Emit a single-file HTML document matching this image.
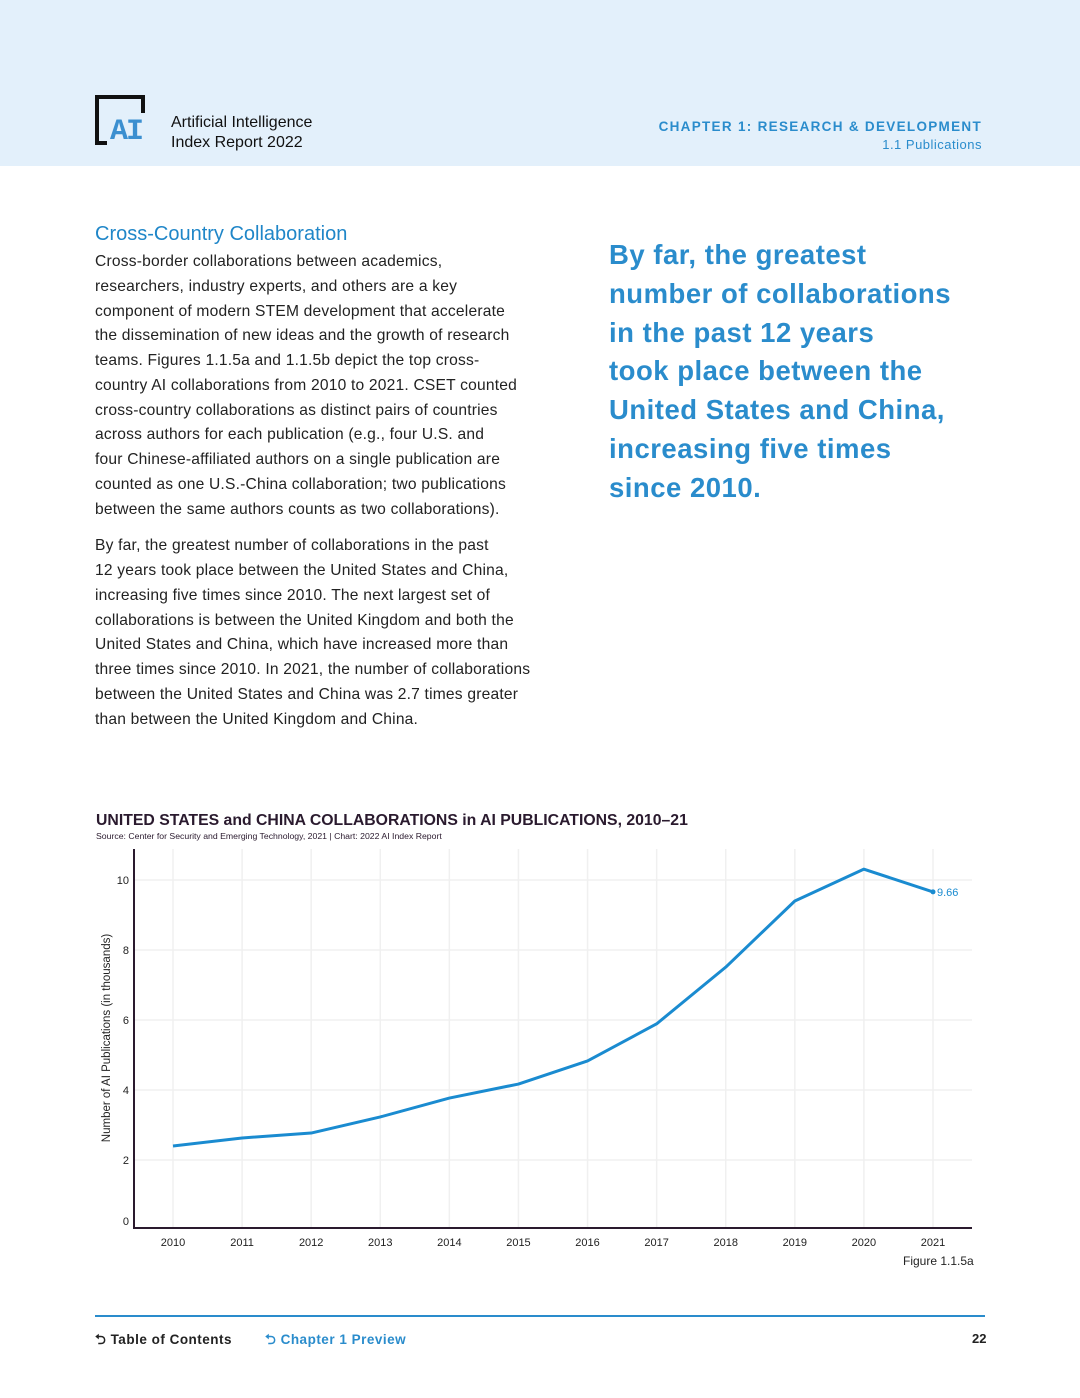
<!DOCTYPE html>
<html><head><meta charset="utf-8">
<style>
body{margin:0;width:1080px;height:1398px;background:#fff;font-family:"Liberation Sans",sans-serif;position:relative;overflow:hidden}
.abs{position:absolute}
#hdr{left:0;top:0;width:1080px;height:166px;background:#e3f0fb}
.body p{margin:0;white-space:nowrap}
</style></head><body>
<div id="hdr" class="abs"></div>
<div class="abs" style="left:95px;top:95px;width:52px;height:50px">
 <div style="position:absolute;left:0;top:0;width:4px;height:50px;background:#111"></div>
 <div style="position:absolute;left:0;top:0;width:50px;height:4px;background:#111"></div>
 <div style="position:absolute;left:46px;top:0;width:4px;height:18px;background:#111"></div>
 <div style="position:absolute;left:0;top:46px;width:12px;height:4px;background:#111"></div>
 <div style="position:absolute;left:15px;top:20px;font:bold 30px 'Liberation Mono',monospace;color:#3b8fd0;letter-spacing:-2px">AI</div>
</div>
<div class="abs" style="left:171px;top:113px;font-size:16px;line-height:20px;color:#111">Artificial Intelligence<br>Index Report 2022</div>
<div class="abs" style="right:98px;top:118px;text-align:right;color:#2a8ccc;font-size:13.5px;font-weight:bold;letter-spacing:1.3px;line-height:18px">CHAPTER 1: RESEARCH &amp; DEVELOPMENT<br><span style="font-weight:normal;letter-spacing:0.5px;font-size:13px">1.1 Publications</span></div>

<div class="abs" style="left:95px;top:223px;font-size:20px;color:#1f86c8">Cross-Country Collaboration</div>
<div class="abs body" style="left:95px;top:250px;width:445px;font-size:15.6px;line-height:24.75px;color:#222;letter-spacing:0.2px">
<p>Cross-border collaborations between academics,<br>researchers, industry experts, and others are a key<br>component of modern STEM development that accelerate<br>the dissemination of new ideas and the growth of research<br>teams. Figures 1.1.5a and 1.1.5b depict the top cross-<br>country AI collaborations from 2010 to 2021. CSET counted<br>cross-country collaborations as distinct pairs of countries<br>across authors for each publication (e.g., four U.S. and<br>four Chinese-affiliated authors on a single publication are<br>counted as one U.S.-China collaboration; two publications<br>between the same authors counts as two collaborations).</p>
<p style="margin-top:12px">By far, the greatest number of collaborations in the past<br>12 years took place between the United States and China,<br>increasing five times since 2010. The next largest set of<br>collaborations is between the United Kingdom and both the<br>United States and China, which have increased more than<br>three times since 2010. In 2021, the number of collaborations<br>between the United States and China was 2.7 times greater<br>than between the United Kingdom and China.</p>
</div>
<div class="abs" style="left:609px;top:236px;width:420px;white-space:nowrap;font-size:27.5px;font-weight:bold;line-height:38.8px;color:#2a8ccc;letter-spacing:0.5px">By far, the greatest<br>number of collaborations<br>in the past 12 years<br>took place between the<br>United States and China,<br>increasing five times<br>since 2010.</div>

<div class="abs" style="left:96px;top:812px;font-size:15.8px;font-weight:bold;color:#2a1a2e">UNITED STATES and CHINA COLLABORATIONS in AI PUBLICATIONS, 2010–21</div>
<div class="abs" style="left:96px;top:831px;font-size:8.7px;color:#2a1a2e">Source: Center for Security and Emerging Technology, 2021 | Chart: 2022 AI Index Report</div>
<svg class="abs" style="left:0;top:0" width="1080" height="1398" id="chart"></svg>
<div class="abs" style="left:903px;top:1254px;font-size:12px;color:#222">Figure 1.1.5a</div>

<div class="abs" style="left:95px;top:1315px;width:890px;height:2px;background:#2a8ccc"></div>
<div class="abs" style="left:95px;top:1330px;font-size:13.5px;font-weight:bold;color:#222;letter-spacing:0.5px">⮌ Table of Contents</div>
<div class="abs" style="left:265px;top:1330px;font-size:13.5px;font-weight:bold;color:#2a8ccc;letter-spacing:0.5px">⮌ Chapter 1 Preview</div>
<div class="abs" style="left:972px;top:1331px;font-size:13px;font-weight:bold;color:#222">22</div>

<script>
const years=["2010","2011","2012","2013","2014","2015","2016","2017","2018","2019","2020","2021"];
const values=[2.4,2.63,2.77,3.23,3.77,4.17,4.83,5.89,7.51,9.4,10.31,9.66];
const yTicks=[0,2,4,6,8,10];
const NS="http://www.w3.org/2000/svg";
const svg=document.getElementById('chart');
const x=i=>173+i*(933-173)/(years.length-1);
const y=v=>1230-v*35;
function mk(t,a){const e=document.createElementNS(NS,t);for(const k in a)e.setAttribute(k,a[k]);svg.appendChild(e);return e;}
years.forEach((yr,i)=>{
 const g=mk('line',{x1:x(i),x2:x(i),y1:849,y2:1228,stroke:'#f0f0f0','stroke-width':1.5});
 
 
 const t=mk('text',{x:x(i),y:1246,'text-anchor':'middle','font-size':11,fill:'#222','font-family':'Liberation Sans'});
 t.textContent=yr;
 
 
});
yTicks.forEach(v=>{
 if(v>0){const g=mk('line',{x1:134,x2:972,y1:y(v),y2:y(v),stroke:'#f0f0f0','stroke-width':1.5});
 
 }
 const t=mk('text',{x:129,y:(v===0?1225:y(v)+4),'text-anchor':'end','font-size':11,fill:'#222','font-family':'Liberation Sans'});
 t.textContent=v;
 
 
});
const ax=mk('line',{x1:134,x2:134,y1:849,y2:1229,stroke:'#2a1a2e','stroke-width':2});


const bx=mk('line',{x1:133,x2:972,y1:1228,y2:1228,stroke:'#2a1a2e','stroke-width':2});


const yt=mk('text',{x:0,y:0,transform:'translate(110,1038) rotate(-90)','text-anchor':'middle','font-size':11.5,fill:'#222','font-family':'Liberation Sans'});
yt.textContent='Number of AI Publications (in thousands)';


const ln=mk('polyline',{points:values.map((v,i)=>x(i)+','+y(v)).join(' '),fill:'none',stroke:'#1a8bd0','stroke-width':3,'stroke-linejoin':'round'});


const li=values.length-1;
const d=mk('circle',{cx:x(li),cy:y(values[li]),r:2.5,fill:'#1a8bd0'});


const lab=mk('text',{x:x(li)+4,y:y(values[li])+4,'font-size':11,fill:'#1a8bd0','font-family':'Liberation Sans'});
lab.textContent=values[li].toFixed(2);


</script>
</body></html>
